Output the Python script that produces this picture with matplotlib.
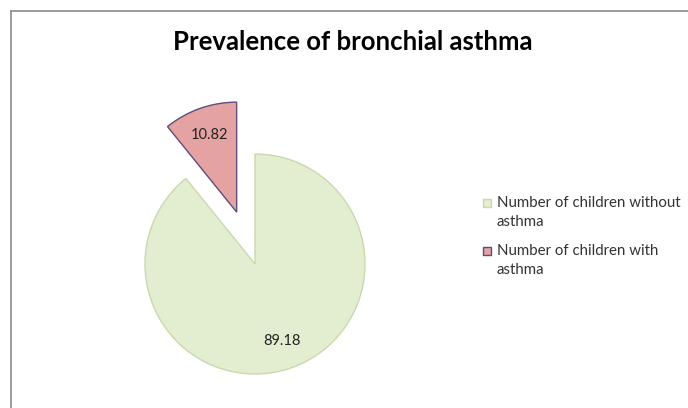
import matplotlib
matplotlib.use("Agg")
import matplotlib.pyplot as plt
from matplotlib.lines import Line2D
from matplotlib.patches import Rectangle

plt.rcParams['font.family'] = ['Lato', 'DejaVu Sans']

categories = ["Number of children without\nasthma", "Number of children with\nasthma"]
values = [89.18, 10.82]
colors = ["#E2EECF", "#E4A3A2"]
edgecolors = ["#C9D9AE", "#5E4C7E"]
explode = [0, 0.5]
title = "Prevalence of bronchial asthma"

W, H = 688, 408
fig = plt.figure(figsize=(W / 100, H / 100), dpi=100)
fig.patch.set_facecolor("white")

# pie axes: center at (255, 264) px from top-left, radius 110 px
R = 110
cx, cy = 255, 264
L = 1.6
size = 2 * L * R
ax = fig.add_axes([(cx - size / 2) / W, (H - cy - size / 2) / H, size / W, size / H])
wedges, texts, autotexts = ax.pie(
    values, colors=colors, explode=explode, startangle=90, counterclock=False,
    autopct=lambda p: f"{p:.2f}", pctdistance=0.74,
    wedgeprops=dict(linewidth=1.0),
    textprops=dict(fontsize=10.5, color="#222222"),
)
for w, ec in zip(wedges, edgecolors):
    w.set_edgecolor(ec)
    w.set_clip_on(False)
ax.set_xlim(-L, L)
ax.set_ylim(-L, L)
ax.set_aspect("equal")
ax.axis("off")

fig.text(353 / W, 1 - 42 / H, title, ha="center", va="center",
         fontsize=18.5, fontweight="bold", color="black")

# legend (manual, marker aligned with first label line)
leg_x, leg_y0, leg_step = 483, 203, 48
for i, (lab, c, e) in enumerate(zip(categories, colors, edgecolors)):
    y = leg_y0 + i * leg_step
    fig.add_artist(Rectangle((leg_x / W, 1 - (y + 4) / H), 8 / W, 8 / H,
                             transform=fig.transFigure, facecolor=c,
                             edgecolor=e, linewidth=1.0))
    fig.text((leg_x + 14) / W, 1 - (y - 7) / H, lab, ha="left", va="top",
             fontsize=10.8, color="#333333", linespacing=1.45)

# chart border
fig.add_artist(Line2D([10.5 / W, 10.5 / W], [0, 1 - 10.5 / H], transform=fig.transFigure,
                      color="#8a8a8a", linewidth=1.2))
fig.add_artist(Line2D([10.5 / W, 1], [1 - 10.5 / H, 1 - 10.5 / H], transform=fig.transFigure,
                      color="#8a8a8a", linewidth=1.2))

fig.savefig("out.png", dpi=100)
